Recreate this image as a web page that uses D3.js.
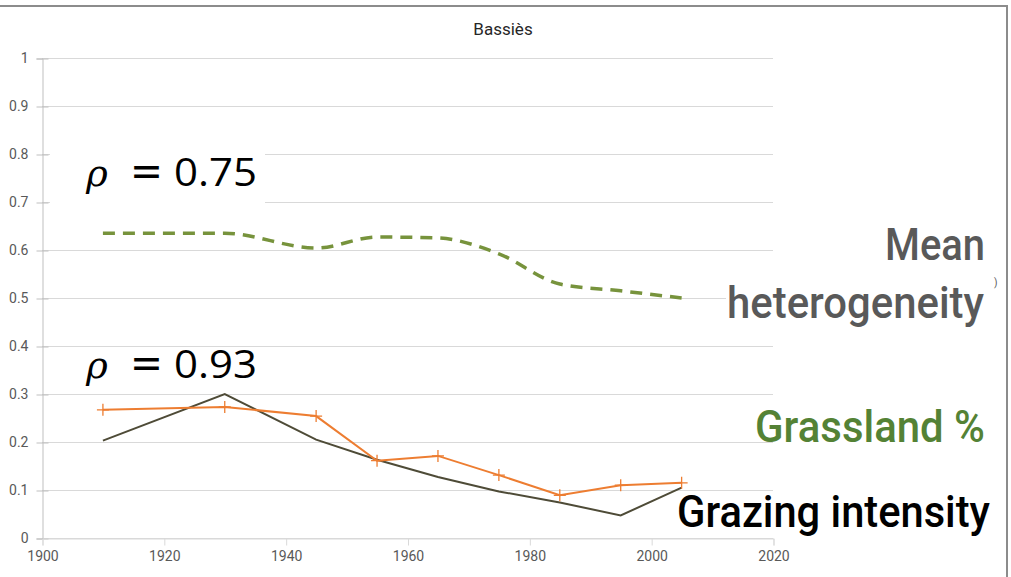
<!DOCTYPE html>
<html>
<head>
<meta charset="utf-8">
<script src="https://cdn.jsdelivr.net/npm/d3@7"></script>
<style>
  html, body { margin: 0; padding: 0; background: #fff; }
  svg { display: block; }
</style>
</head>
<body>
<script>
// ---- data ----
const years = [1910, 1930, 1945, 1955, 1965, 1975, 1985, 1995, 2005];
const grazingIntensity = [0.203, 0.300, 0.205, 0.163, 0.127, 0.097, 0.074, 0.047, 0.105];
const grasslandPct = [0.267, 0.273, 0.254, 0.161, 0.171, 0.131, 0.089, 0.110, 0.115];
const meanHeterogeneity = [0.635, 0.635, 0.604, 0.627, 0.625, 0.592, 0.529, 0.515, 0.500];
const xTicks = [1900, 1920, 1940, 1960, 1980, 2000, 2020];
const yTicks = [0, 0.1, 0.2, 0.3, 0.4, 0.5, 0.6, 0.7, 0.8, 0.9, 1];
const title = "Bassiès";

const W = 1011, H = 577;
const svg = d3.select("body").append("svg").attr("width", W).attr("height", H);

// border
svg.append("path").attr("d", `M0,6 H1007 V577`).attr("fill", "none")
  .attr("stroke", "#8c8c8c").attr("stroke-width", 2);

const x = d3.scaleLinear().domain([1900, 2020]).range([42, 773]);
const y = d3.scaleLinear().domain([0, 1]).range([538, 58]);

// gridlines
svg.append("g").selectAll("line").data(yTicks).join("line")
  .attr("x1", 42).attr("x2", 773)
  .attr("y1", d => y(d) + 0.5).attr("y2", d => y(d) + 0.5)
  .attr("stroke", "#d9d9d9").attr("stroke-width", 1);

// y axis
const yAxis = svg.append("g").attr("transform", "translate(42.5,0.5)")
  .call(d3.axisLeft(y).tickValues(yTicks).tickSize(6).tickPadding(8)
    .tickFormat(d => d3.format("~g")(+d.toFixed(1))));
yAxis.select(".domain").attr("stroke", "#bfbfbf");
yAxis.selectAll(".tick line").attr("stroke", "#bfbfbf").attr("x1", 6);
yAxis.selectAll("text").attr("fill", "#595959")
  .style("font-family", "Roboto, 'DejaVu Sans', sans-serif").style("font-size", "14px");

// x axis
const xAxis = svg.append("g").attr("transform", "translate(0.5,538.5)")
  .call(d3.axisBottom(x).tickValues(xTicks).tickSize(7).tickPadding(6).tickFormat(d3.format("d")));
xAxis.select(".domain").attr("stroke", "#d9d9d9");
xAxis.selectAll(".tick line").attr("stroke", "#d9d9d9");
xAxis.selectAll("text").attr("fill", "#595959")
  .style("font-family", "Roboto, 'DejaVu Sans', sans-serif").style("font-size", "14px");

// title
svg.append("text").attr("x", 503).attr("y", 35).attr("text-anchor", "middle")
  .attr("fill", "#262626").style("font-family", "Roboto, sans-serif").style("font-size", "17px")
  .text(title);

// lines
const pts = (vals) => years.map((yr, i) => [yr, vals[i]]);

svg.append("path").datum(pts(meanHeterogeneity))
  .attr("d", d3.line().x(d => x(d[0])).y(d => y(d[1])).curve(d3.curveMonotoneX))
  .attr("fill", "none").attr("stroke", "#77933c").attr("stroke-width", 3.5)
  .attr("stroke-dasharray", "12,8");

svg.append("path").datum(pts(grazingIntensity))
  .attr("d", d3.line().x(d => x(d[0])).y(d => y(d[1])))
  .attr("fill", "none").attr("stroke", "#4e4b37").attr("stroke-width", 2);

svg.append("path").datum(pts(grasslandPct))
  .attr("d", d3.line().x(d => x(d[0])).y(d => y(d[1])))
  .attr("fill", "none").attr("stroke", "#ed7d31").attr("stroke-width", 2);

svg.append("g").selectAll("path").data(pts(grasslandPct)).join("path")
  .attr("d", d => `M${x(d[0]) - 6},${y(d[1])}H${x(d[0]) + 6}M${x(d[0])},${y(d[1]) - 6}V${y(d[1]) + 6}`)
  .attr("stroke", "#ed7d31").attr("stroke-width", 1.3).attr("fill", "none");

// fitted text: natural glyphs horizontally scaled to width w, right edge at xr
function fitText(txt, xr, yb, w, size, color, weight, family) {
  const t = svg.append("text").attr("text-anchor", "end")
    .style("font-family", family).style("font-weight", weight).style("font-size", size + "px")
    .attr("fill", color).text(txt);
  const nat = t.node().getComputedTextLength();
  t.attr("transform", `translate(${xr},${yb}) scale(${w / nat},1)`);
  return t;
}

// rho annotations
function rho(yBase, value, box) {
  if (box) svg.append("rect").attr("x", 50).attr("y", yBase - 36).attr("width", 215).attr("height", 57).attr("fill", "#fff");
  svg.append("text").attr("x", 86).attr("y", yBase)
    .style("font-family", "'DejaVu Serif', serif").style("font-style", "italic").style("font-size", "37px")
    .attr("fill", "#000").text("ρ");
  fitText("=", 163, yBase - 1, 33, 42, "#000", "400", "'DejaVu Sans', sans-serif");
  fitText(value, 257, yBase, 83, 39, "#000", "400", "'Open Sans', sans-serif");
}
rho(186, "0.75", true);
rho(378, "0.93", false);

// right-side labels
const RF = "Roboto, sans-serif";
svg.append("rect").attr("x", 726).attr("y", 276).attr("width", 262).attr("height", 58).attr("fill", "#fff");
fitText("Mean", 985, 260, 100, 44, "#595959", "500", RF);
fitText("heterogeneity", 984, 318, 257, 44, "#595959", "500", RF);
svg.append("text").attr("x", 994).attr("y", 286).style("font-family", RF)
  .style("font-size", "10px").attr("fill", "#595959").text(")");
fitText("Grassland %", 985, 442, 230, 44, "#548235", "500", RF);
fitText("Grazing intensity", 990, 527, 313, 44, "#000000", "500", RF);
</script>
</body>
</html>
